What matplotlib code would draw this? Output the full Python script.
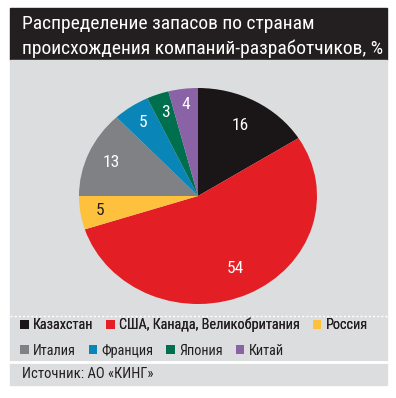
import matplotlib.pyplot as plt
from matplotlib.patches import Rectangle
import numpy as np

plt.rcParams['font.family'] = ['Roboto Condensed', 'DejaVu Sans']

countries = ["Казахстан", "США, Канада, Великобритания", "Россия",
             "Италия", "Франция", "Япония", "Китай"]
shares = [16, 54, 5, 13, 5, 3, 4]
colors = ["#1a1617", "#e31e24", "#fdc13e", "#808184", "#0a85b8", "#006f4e", "#8a62a6"]
label_colors = ["white", "white", "#231f20", "white", "white", "white", "white"]
label_radius = [0.74, 0.74, 0.83, 0.79, 0.82, 0.82, 0.85]

W, H = 396, 398
fig = plt.figure(figsize=(W / 100, H / 100), dpi=100)
fig.patch.set_facecolor("white")


def px(x0, y0, x1, y1):
    # pixel box (top-left origin) -> figure fraction rect
    return [x0 / W, 1 - y1 / H, (x1 - x0) / W, (y1 - y0) / H]


# background panels
bg = fig.add_axes([0, 0, 1, 1])
bg.set_xlim(0, W)
bg.set_ylim(H, 0)
bg.axis("off")
bg.add_patch(Rectangle((10, 8), 377, 52, color="#231f20"))
bg.add_patch(Rectangle((10, 60), 377, 325, color="#dcdddf"))
bg.plot([10, 387], [316, 316], color="white", lw=1, ls=(0, (1.5, 1.5)))
bg.plot([10, 387], [362, 362], color="white", lw=2)

bg.text(22, 24, "Распределение запасов по странам", color="white",
        fontsize=14, va="center", ha="left")
bg.text(22, 49, "происхождения компаний-разработчиков, %", color="white",
        fontsize=14, va="center", ha="left")
bg.text(22, 374, "Источник: АО «КИНГ»", color="#231f20",
        fontsize=10.5, va="center", ha="left")

# pie
ax = fig.add_axes(px(79, 88, 317, 304))
wedges, _ = ax.pie(shares, colors=colors, startangle=90, counterclock=False,
                   wedgeprops=dict(linewidth=0))
ax.set_aspect("auto")
ax.set_xlim(-1, 1)
ax.set_ylim(-1, 1)
for w, v, c, r in zip(wedges, shares, label_colors, label_radius):
    ang = np.deg2rad((w.theta1 + w.theta2) / 2)
    ax.text(r * np.cos(ang), r * np.sin(ang), str(v), color=c,
            fontsize=12.5, ha="center", va="center")

# legend, two rows
leg_kw = dict(loc="center left", frameon=False, fontsize=10.3,
              handlelength=0.6, handleheight=0.6, handletextpad=0.3,
              columnspacing=0.9, borderpad=0, borderaxespad=0,
              labelcolor="#231f20")
row1 = fig.legend(wedges[:3], countries[:3], ncol=3,
                  bbox_to_anchor=(20 / W, 1 - 325 / H), **leg_kw)
fig.add_artist(row1)
fig.legend(wedges[3:], countries[3:], ncol=4,
           bbox_to_anchor=(20 / W, 1 - 351 / H), **leg_kw)

fig.savefig("out.png", dpi=100)
